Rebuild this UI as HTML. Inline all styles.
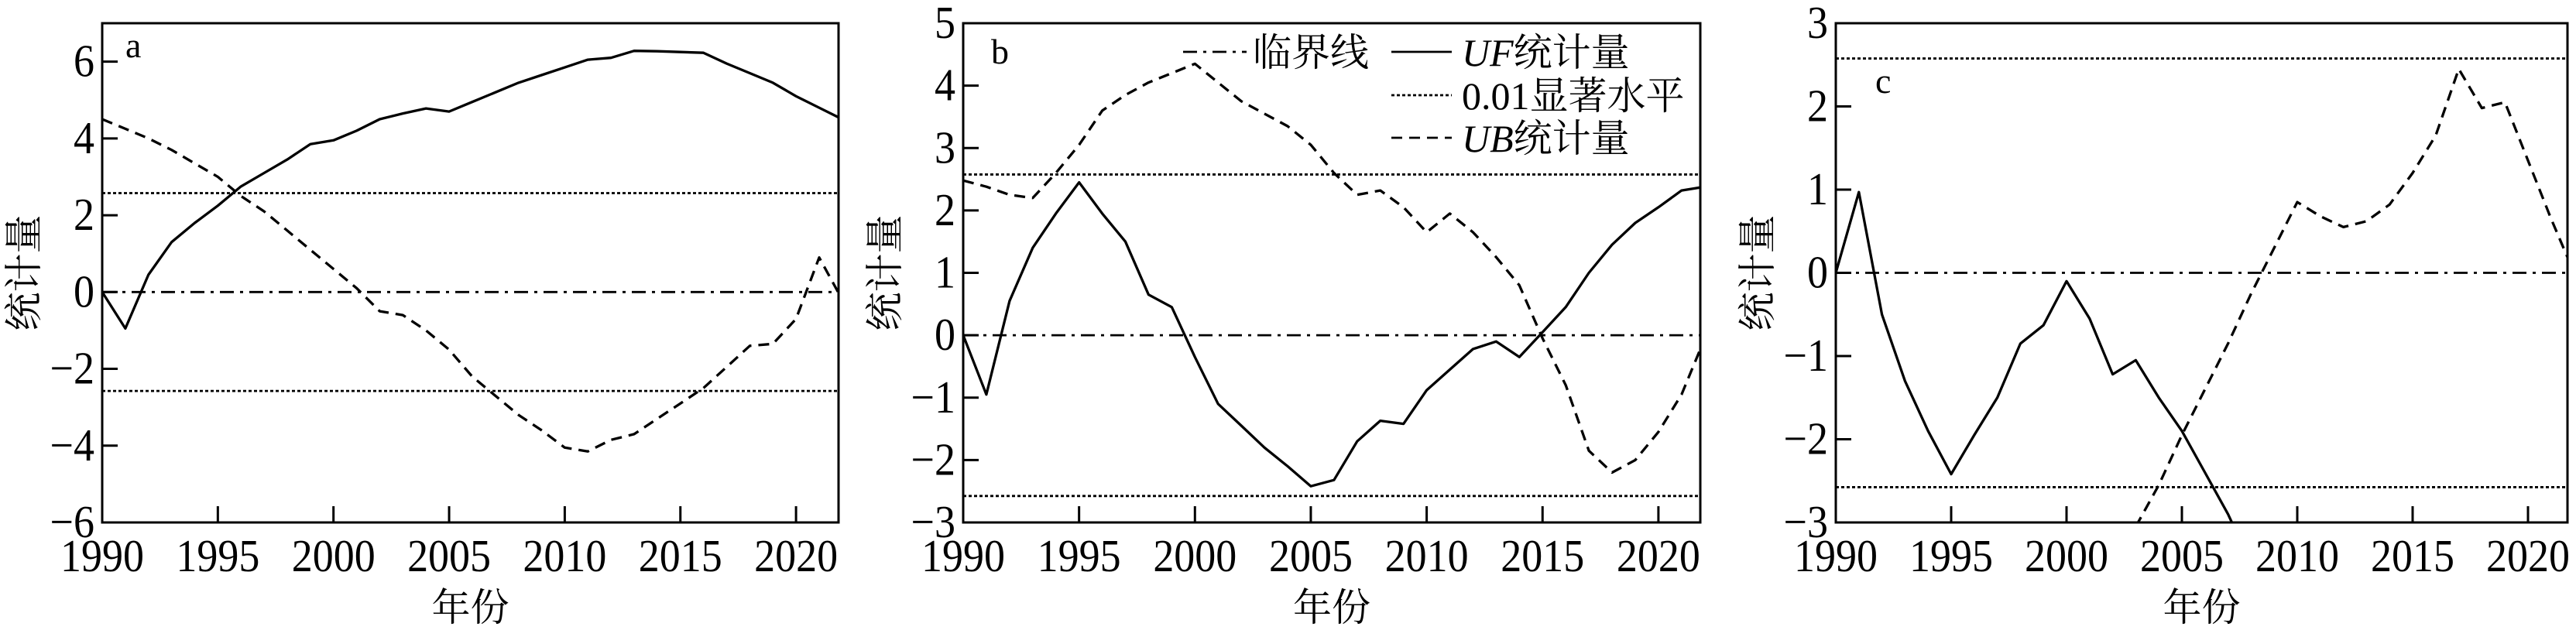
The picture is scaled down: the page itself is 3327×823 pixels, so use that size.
<!DOCTYPE html>
<html><head><meta charset="utf-8">
<style>
html,body{margin:0;padding:0;background:#fff;width:3327px;height:823px;overflow:hidden}
svg text{font-family:"Liberation Serif","Noto Serif CJK SC","Noto Sans CJK SC",serif;fill:#000}
</style></head>
<body>
<svg id="s" width="3327" height="823" xmlns="http://www.w3.org/2000/svg"></svg>
<script>
const NS="http://www.w3.org/2000/svg";const S=document.getElementById('s');
function el(t,a,p){const e=document.createElementNS(NS,t);for(const k in a)e.setAttribute(k,a[k]);(p||S).appendChild(e);return e;}
function txt(x,y,s,a){const e=el('text',Object.assign({x:x,y:y},a||{}));e.textContent=s;return e;}
const T=30,B=675;
const panels=[
{L:132,R:1083,x0:1990,px0:132,py:29.87,ymin:-6,ymax:7,yt:[6,4,2,0,-2,-4,-6],lab:'a',lx:162,ly:74,
uf:[0,-0.95,0.45,1.3,1.8,2.25,2.75,3.1,3.45,3.85,3.95,4.2,4.5,4.65,4.78,4.7,4.95,5.2,5.45,5.65,5.85,6.05,6.1,6.28,6.27,6.25,6.23,5.95,5.7,5.45,5.1,4.8,4.5],
ub:[4.5,4.25,4.0,3.7,3.35,3.0,2.5,2.1,1.6,1.1,0.6,0.1,-0.5,-0.6,-1.0,-1.5,-2.2,-2.7,-3.2,-3.6,-4.05,-4.15,-3.85,-3.7,-3.3,-2.9,-2.5,-1.95,-1.4,-1.35,-0.7,0.9,-0.2]},
{L:1244,R:2196,x0:1990,px0:1244,py:29.93,ymin:-3,ymax:5,yt:[5,4,3,2,1,0,-1,-2,-3],lab:'b',lx:1280,ly:82,
uf:[0,-0.95,0.55,1.4,1.95,2.45,1.95,1.5,0.65,0.45,-0.35,-1.1,-1.45,-1.8,-2.1,-2.42,-2.32,-1.7,-1.37,-1.42,-0.88,-0.55,-0.22,-0.1,-0.35,0.05,0.45,1.0,1.45,1.8,2.05,2.32,2.38],
ub:[2.48,2.38,2.25,2.2,2.6,3.05,3.6,3.85,4.05,4.2,4.35,4.05,3.75,3.55,3.35,3.05,2.6,2.25,2.32,2.05,1.65,1.95,1.65,1.25,0.8,-0.05,-0.8,-1.85,-2.2,-2.0,-1.55,-0.95,-0.05]},
{L:2371,R:3316,x0:1990,px0:2371,py:29.8,ymin:-3,ymax:3,yt:[3,2,1,0,-1,-2,-3],lab:'c',lx:2422,ly:120,
uf:[0,0.97,-0.5,-1.3,-1.9,-2.42,-1.95,-1.5,-0.85,-0.63,-0.1,-0.55,-1.22,-1.05,-1.5,-1.9,-2.4,-2.9,-3.5],
ub:[null,null,null,null,null,null,null,null,null,null,null,null,null,-3.05,-2.55,-1.95,-1.4,-0.85,-0.25,0.3,0.85,0.68,0.55,0.62,0.82,1.2,1.65,2.45,1.98,2.05,1.35,0.65,0.0]}
];
panels.forEach((p,i)=>{
 const X=y=>p.px0+(y-p.x0)*p.py, Y=v=>B-(v-p.ymin)*(B-T)/(p.ymax-p.ymin);
 const cid='c'+i;const cp=el('clipPath',{id:cid});el('rect',{x:p.L,y:T,width:p.R-p.L,height:B-T},cp);
 const g=el('g',{'clip-path':'url(#'+cid+')'});
 el('line',{x1:p.L,x2:p.R,y1:Y(0),y2:Y(0),stroke:'#000','stroke-width':2.8,'stroke-dasharray':'18 8 4 8'},g);
 [2.576,-2.576].forEach(v=>el('line',{x1:p.L,x2:p.R,y1:Y(v),y2:Y(v),stroke:'#000','stroke-width':2.8,'stroke-dasharray':'4 3'},g));
 const path=(arr,dash)=>{let pts=[];arr.forEach((v,k)=>{if(v!==null)pts.push(X(1990+k).toFixed(1)+','+Y(v).toFixed(1));});
  const a={points:pts.join(' '),fill:'none',stroke:'#000','stroke-width':3.3,'stroke-linejoin':'round'};if(dash)a['stroke-dasharray']=dash;el('polyline',a,g);};
 path(p.uf,null);path(p.ub,'14 9');
 el('rect',{x:p.L,y:T,width:p.R-p.L,height:B-T,fill:'none',stroke:'#000','stroke-width':3});
 for(let yr=1990;yr<=2020;yr+=5){const x=X(yr);if(yr>1990)el('line',{x1:x,x2:x,y1:B,y2:B-21,stroke:'#000','stroke-width':3});
  txt(0,0,String(yr),{'font-size':54,'text-anchor':'middle',transform:`translate(${x},738) scale(1,1.1)`});}
 p.yt.forEach(v=>{const y=Y(v);if(v!==p.ymin&&v!==p.ymax)el('line',{x1:p.L,x2:p.L+20,y1:y,y2:y,stroke:'#000','stroke-width':3});
  txt(0,0,(v<0?'\u2212':'')+Math.abs(v),{'font-size':54,'text-anchor':'end',transform:`translate(${p.L-10},${y+19}) scale(1,1.1)`});});
 txt(p.lx,p.ly,p.lab,{'font-size':46});
 txt((p.L+p.R)/2,802,'年份',{'font-size':50,'text-anchor':'middle'});
 txt(0,0,'统计量',{'font-size':50,'text-anchor':'middle',transform:`translate(${p.L-84},${(T+B)/2}) rotate(-90)`});
});
const LG=(x1,x2,y,dash)=>{const a={x1:x1,x2:x2,y1:y,y2:y,stroke:'#000','stroke-width':2.8};if(dash)a['stroke-dasharray']=dash;el('line',a);};
LG(1528,1610,67,'18 8 4 8');txt(1618,85,'临界线',{'font-size':50});
LG(1797,1875,67,null);let t=txt(1888,85,'',{'font-size':50});
t.innerHTML='<tspan font-style="italic">UF</tspan>统计量';
LG(1797,1875,123,'4 3');txt(1888,141,'0.01显著水平',{'font-size':50});
LG(1797,1875,178,'14 9');t=txt(1888,196,'',{'font-size':50});
t.innerHTML='<tspan font-style="italic">UB</tspan>统计量';
</script>
</body></html>
